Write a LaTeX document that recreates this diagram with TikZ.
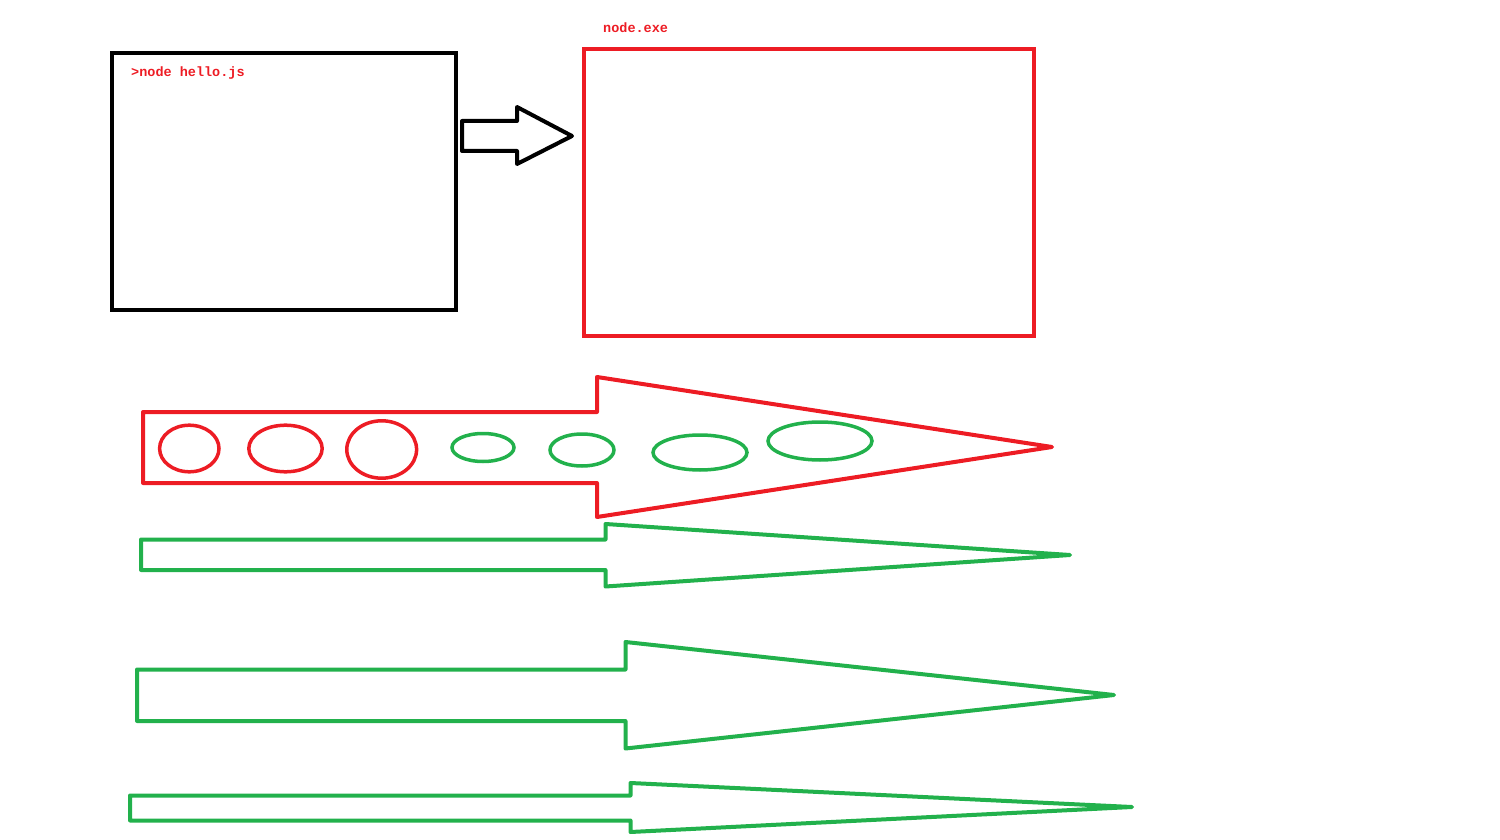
\documentclass[tikz,border=0pt]{standalone}
\usepackage{fontspec}
\newfontfamily\codefont{Liberation Mono}
\definecolor{pred}{HTML}{ED1C24}
\definecolor{pgreen}{HTML}{22B14C}
\begin{document}
\begin{tikzpicture}[x=1pt,y=-1pt,
  outline/.style={line width=4pt,line join=round},
  boxed/.style={outline,inner sep=0pt,outer sep=0pt,anchor=north west,line join=miter},
  codelabel/.style={text=pred,font=\codefont\bfseries\fontsize{13.5}{13.5}\selectfont,inner sep=0pt,anchor=base west},
  blob/.style={line width=3.5pt}]
\useasboundingbox (0,0) rectangle (1500,840);
% boxes
\node[draw=black,boxed,minimum width=344pt,minimum height=257pt] (cmd) at (112,53) {};
\node[draw=pred,boxed,minimum width=450pt,minimum height=287pt] (exe) at (584,49) {};
\node[codelabel] (cmdtext) at (131,76.5) {>node hello.js};
\node[codelabel] (exetext) at (603,33) {node.exe};
% black arrow
\draw[outline,black] (462,121) -- (517,121) -- (517,107) -- (572,136) -- (517,164) -- (517,151) -- (462,151) -- cycle;
% big red arrow
\draw[outline,pred] (143,412) -- (597,412) -- (597,377) -- (1052,447) -- (597,517) -- (597,483) -- (143,483) -- cycle;
% ellipses
\draw[blob,pred] (189.3,448.5) ellipse [x radius=29.7,y radius=23.3];
\draw[blob,pred] (285.5,448.5) ellipse [x radius=36.7,y radius=23.3];
\draw[blob,pred] (381.7,449.5) ellipse [x radius=34.9,y radius=28.7];
\draw[blob,pgreen] (483,447.5) ellipse [x radius=31,y radius=14];
\draw[blob,pgreen] (582,450) ellipse [x radius=32,y radius=16];
\draw[blob,pgreen] (700,452.5) ellipse [x radius=47,y radius=17.5];
\draw[blob,pgreen] (820,441) ellipse [x radius=52,y radius=19];
% green arrows
\draw[outline,pgreen] (141,539.5) -- (605.5,539.5) -- (605.5,524) -- (1070,555) -- (605.5,586.5) -- (605.5,570) -- (141,570) -- cycle;
\draw[outline,pgreen] (137,669.5) -- (625.5,669.5) -- (625.5,642) -- (1114,695) -- (625.5,748.5) -- (625.5,721) -- (137,721) -- cycle;
\draw[outline,pgreen] (130,795.5) -- (630.5,795.5) -- (630.5,783) -- (1132,807) -- (630.5,832) -- (630.5,820.5) -- (130,820.5) -- cycle;
\end{tikzpicture}
\end{document}
